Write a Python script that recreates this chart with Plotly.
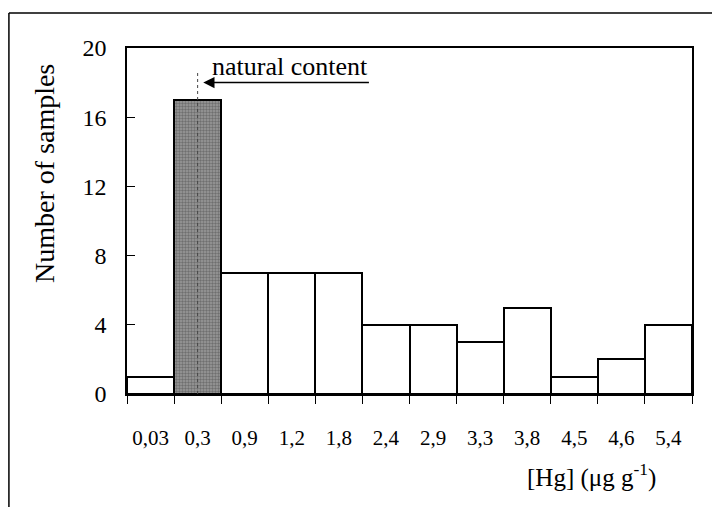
import plotly.graph_objects as go

# Mercury concentration classes and sample counts
classes = ["0,03", "0,3", "0,9", "1,2", "1,8", "2,4", "2,9", "3,3", "3,8", "4,5", "4,6", "5,4"]
counts = [1, 17, 7, 7, 7, 4, 4, 3, 5, 1, 2, 4]
natural_class = "0,3"

y_ticks = [0, 4, 8, 12, 16, 20]

FONT = "Liberation Serif"
pos = list(range(len(classes)))
edges = [p - 0.5 for p in pos] + [len(classes) - 0.5]
nat = classes.index(natural_class)

fills = ["#9a9a9a" if i == nat else "white" for i in pos]
shapes_pat = ["." if i == nat else "" for i in pos]

fig = go.Figure()
fig.add_trace(go.Bar(
    x=pos, y=counts, width=1.0,
    marker=dict(
        color=fills,
        line=dict(color="black", width=2),
        pattern=dict(shape=shapes_pat, fgcolor="#ffffff", bgcolor="#6e6e6e",
                     size=3, solidity=0.5),
    ),
    showlegend=False,
))

# dashed marker for the natural content class
fig.add_shape(type="line", x0=nat, x1=nat, y0=0, y1=18.6, xref="x", yref="y",
              line=dict(color="#444", width=1, dash="dot"))

fig.add_annotation(x=nat + 0.12, y=18.0, ax=4.67, ay=18.0, xref="x", yref="y",
                   axref="x", ayref="y", text="", showarrow=True,
                   arrowhead=2, arrowsize=1.5, arrowwidth=1.5, arrowcolor="black")
fig.add_annotation(x=2.97, y=18.95, xref="x", yref="y", text="natural content",
                   showarrow=False, xanchor="center", yanchor="middle",
                   font=dict(family=FONT, size=26, color="black"))

# axis titles
fig.add_annotation(x=-0.145, y=0.636, xref="paper", yref="paper", text="Number of samples",
                   textangle=-90, showarrow=False, xanchor="center", yanchor="middle",
                   font=dict(family=FONT, size=28, color="black"))
fig.add_annotation(x=0.823, y=-0.235, xref="paper", yref="paper",
                   text="[Hg] (μg g<sup>-1</sup>)", showarrow=False,
                   xanchor="center", yanchor="middle",
                   font=dict(family=FONT, size=25, color="black"))

# outer frame (left and top edges)
fig.add_shape(type="line", xref="paper", yref="paper", x0=-0.209, x1=-0.209,
              y0=-0.33, y1=1.101, line=dict(color="black", width=1.5))
fig.add_shape(type="line", xref="paper", yref="paper", x0=-0.209, x1=1.04,
              y0=1.101, y1=1.101, line=dict(color="black", width=1.5))

fig.update_layout(
    width=712, height=507,
    margin=dict(l=127, r=20, t=48, b=113),
    paper_bgcolor="white", plot_bgcolor="white",
    font=dict(family=FONT, size=21, color="black"),
    bargap=0,
)
fig.update_xaxes(
    range=[-0.5, len(classes) - 0.5],
    tickvals=pos, ticktext=classes, ticks="", ticklabelstandoff=24,
    minor=dict(tickvals=edges, ticks="outside", ticklen=8, tickcolor="black", tickwidth=1),
    showline=True, linecolor="black", linewidth=1.5, mirror=True,
    showgrid=False, zeroline=False,
    tickfont=dict(family=FONT, size=21),
)
fig.update_yaxes(
    range=[0, 20], tickvals=y_ticks, ticks="inside", ticklen=8, tickcolor="black",
    ticklabelstandoff=14,
    showline=True, linecolor="black", linewidth=1.5, mirror=True,
    showgrid=False, zeroline=False,
    tickfont=dict(family=FONT, size=24),
)

fig.write_html("out.html")
